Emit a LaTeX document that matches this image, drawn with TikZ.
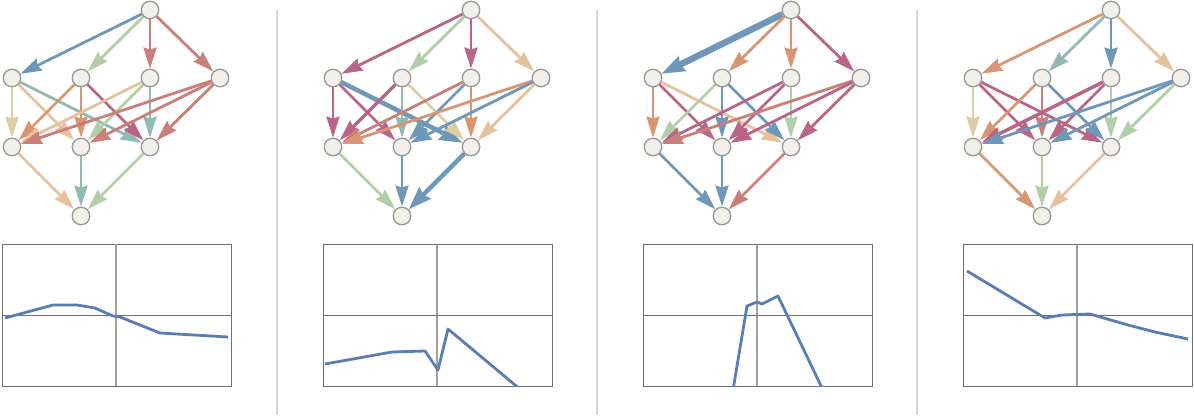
\documentclass[tikz,border=0pt]{standalone}
\usetikzlibrary{arrows.meta}
\definecolor{eblue}{HTML}{6F97B7}
\definecolor{emag}{HTML}{BA6587}
\definecolor{ered}{HTML}{CB7F7A}
\definecolor{eorange}{HTML}{D99673}
\definecolor{epeach}{HTML}{E7C19B}
\definecolor{egreen}{HTML}{B2CEA8}
\definecolor{eteal}{HTML}{92BAB2}
\definecolor{ekhaki}{HTML}{D9CEA5}
\definecolor{vfill}{HTML}{F2F0EB}
\definecolor{vgray}{HTML}{989898}
\definecolor{fgray}{HTML}{6E6E6E}
\definecolor{mgray}{HTML}{A0A0A0}
\definecolor{sgray}{HTML}{D6D6D6}
\definecolor{cblue}{HTML}{5A7DB4}
\tikzset{
  vtx/.style={circle,draw=vgray,fill=vfill,line width=1.3pt,minimum size=17.5pt,inner sep=0pt},
  wire/.style={draw=#1,line width=2.8pt,-{Stealth[length=21pt,width=13pt,inset=2pt]}},
  heavy/.style={line width=#1,-{Stealth[length=23pt,width=16pt,inset=2.5pt]}},
  frm/.style={draw=fgray,line width=1pt},
  curve/.style={draw=cblue,line width=2.8pt,line join=round},
  sep/.style={draw=sgray,line width=1.5pt}
}
\begin{document}
\begin{tikzpicture}[x=1pt,y=-1pt]
  \useasboundingbox (0,0) rectangle (1194,418);
  % separators
  \draw[sep] (277,10) -- (277,415);
  \draw[sep] (597,10) -- (597,415);
  \draw[sep] (917,10) -- (917,415);
  % panel 1
  \begin{scope}
    \node[vtx] (t) at (150,10) {};
    \node[vtx] (a1) at (12,78) {};
    \node[vtx] (a2) at (81,78) {};
    \node[vtx] (a3) at (150,78) {};
    \node[vtx] (a4) at (220,78) {};
    \node[vtx] (b1) at (12,147) {};
    \node[vtx] (b2) at (81,147) {};
    \node[vtx] (b3) at (150,147) {};
    \node[vtx] (z) at (81,216) {};
    \draw[wire=eblue] (t) -- (a1);
    \draw[wire=egreen] (t) -- (a2);
    \draw[wire=ered] (t) -- (a3);
    \draw[wire=ered] (t) -- (a4);
    \draw[wire=ekhaki] (a1) -- (b1);
    \draw[wire=epeach] (a1) -- (b2);
    \draw[wire=eteal] (a1) -- (b3);
    \draw[wire=eorange] (a2) -- (b1);
    \draw[wire=eorange] (a2) -- (b2);
    \draw[wire=emag] (a2) -- (b3);
    \draw[wire=epeach] (a3) -- (b1);
    \draw[wire=egreen] (a3) -- (b2);
    \draw[wire=eteal] (a3) -- (b3);
    \draw[wire=ered] (a4) -- (b1);
    \draw[wire=ered] (a4) -- (b2);
    \draw[wire=ered] (a4) -- (b3);
    \draw[wire=epeach] (b1) -- (z);
    \draw[wire=eteal] (b2) -- (z);
    \draw[wire=egreen] (b3) -- (z);
    \draw[frm] (2,244) rectangle (231,386);
    \draw[draw=mgray,line width=1.5pt] (116,244) -- (116,386);
    \draw[frm] (2,315) -- (231,315);
    \clip (2,244) rectangle (231,386);
    \draw[curve] (5,318) -- (53,305) -- (77,305) -- (95,308) -- (113,316) -- (120,317) -- (160,333) -- (228,337);
  \end{scope}
  % panel 2
  \begin{scope}[xshift=321]
    \node[vtx] (t) at (150,10) {};
    \node[vtx] (a1) at (12,78) {};
    \node[vtx] (a2) at (81,78) {};
    \node[vtx] (a3) at (150,78) {};
    \node[vtx] (a4) at (220,78) {};
    \node[vtx] (b1) at (12,147) {};
    \node[vtx] (b2) at (81,147) {};
    \node[vtx] (b3) at (150,147) {};
    \node[vtx] (z) at (81,216) {};
    \draw[wire=emag] (t) -- (a1);
    \draw[wire=egreen] (t) -- (a2);
    \draw[wire=emag] (t) -- (a3);
    \draw[wire=epeach] (t) -- (a4);
    \draw[wire=emag] (a1) -- (b1);
    \draw[wire=emag] (a1) -- (b2);
    \draw[wire=eblue,heavy=4.5pt] (a1) -- (b3);
    \draw[wire=emag,line width=3.5pt] (a2) -- (b1);
    \draw[wire=eteal] (a2) -- (b2);
    \draw[wire=ekhaki] (a2) -- (b3);
    \draw[wire=ered] (a3) -- (b1);
    \draw[wire=eblue] (a3) -- (b2);
    \draw[wire=eorange] (a3) -- (b3);
    \draw[wire=eorange] (a4) -- (b1);
    \draw[wire=eblue] (a4) -- (b2);
    \draw[wire=epeach] (a4) -- (b3);
    \draw[wire=egreen] (b1) -- (z);
    \draw[wire=eblue] (b2) -- (z);
    \draw[wire=eblue,heavy=4.5pt] (b3) -- (z);
    \draw[frm] (2,244) rectangle (231,386);
    \draw[draw=mgray,line width=1.5pt] (116,244) -- (116,386);
    \draw[frm] (2,315) -- (231,315);
    \clip (2,244) rectangle (231,386);
    \draw[curve] (4,364) -- (71,352) -- (104,351) -- (117,370) -- (127,329) -- (200,390);
  \end{scope}
  % panel 3
  \begin{scope}[xshift=641]
    \node[vtx] (t) at (150,10) {};
    \node[vtx] (a1) at (12,78) {};
    \node[vtx] (a2) at (81,78) {};
    \node[vtx] (a3) at (150,78) {};
    \node[vtx] (a4) at (220,78) {};
    \node[vtx] (b1) at (12,147) {};
    \node[vtx] (b2) at (81,147) {};
    \node[vtx] (b3) at (150,147) {};
    \node[vtx] (z) at (81,216) {};
    \draw[wire=eblue,heavy=6.5pt] (t) -- (a1);
    \draw[wire=eorange] (t) -- (a2);
    \draw[wire=eorange] (t) -- (a3);
    \draw[wire=emag] (t) -- (a4);
    \draw[wire=eorange] (a1) -- (b1);
    \draw[wire=emag] (a1) -- (b2);
    \draw[wire=epeach] (a1) -- (b3);
    \draw[wire=egreen] (a2) -- (b1);
    \draw[wire=eblue] (a2) -- (b2);
    \draw[wire=eblue] (a2) -- (b3);
    \draw[wire=emag] (a3) -- (b1);
    \draw[wire=emag] (a3) -- (b2);
    \draw[wire=egreen] (a3) -- (b3);
    \draw[wire=ered] (a4) -- (b1);
    \draw[wire=emag] (a4) -- (b2);
    \draw[wire=emag] (a4) -- (b3);
    \draw[wire=eblue] (b1) -- (z);
    \draw[wire=eblue] (b2) -- (z);
    \draw[wire=ered] (b3) -- (z);
    \draw[frm] (2,244) rectangle (231,386);
    \draw[draw=mgray,line width=1.5pt] (116,244) -- (116,386);
    \draw[frm] (2,315) -- (231,315);
    \clip (2,244) rectangle (231,386);
    \draw[curve] (92,390) -- (106,306) -- (116,302) -- (121,304) -- (137,296) -- (182,390);
  \end{scope}
  % panel 4
  \begin{scope}[xshift=961]
    \node[vtx] (t) at (150,10) {};
    \node[vtx] (a1) at (12,78) {};
    \node[vtx] (a2) at (81,78) {};
    \node[vtx] (a3) at (150,78) {};
    \node[vtx] (a4) at (220,78) {};
    \node[vtx] (b1) at (12,147) {};
    \node[vtx] (b2) at (81,147) {};
    \node[vtx] (b3) at (150,147) {};
    \node[vtx] (z) at (81,216) {};
    \draw[wire=eorange] (t) -- (a1);
    \draw[wire=eteal] (t) -- (a2);
    \draw[wire=eblue] (t) -- (a3);
    \draw[wire=epeach] (t) -- (a4);
    \draw[wire=ekhaki] (a1) -- (b1);
    \draw[wire=emag] (a1) -- (b2);
    \draw[wire=emag] (a1) -- (b3);
    \draw[wire=eorange] (a2) -- (b1);
    \draw[wire=ered] (a2) -- (b2);
    \draw[wire=eblue] (a2) -- (b3);
    \draw[wire=emag,line width=3.5pt] (a3) -- (b1);
    \draw[wire=emag] (a3) -- (b2);
    \draw[wire=egreen] (a3) -- (b3);
    \draw[wire=eblue] (a4) -- (b1);
    \draw[wire=eblue] (a4) -- (b2);
    \draw[wire=egreen] (a4) -- (b3);
    \draw[wire=eorange] (b1) -- (z);
    \draw[wire=egreen] (b2) -- (z);
    \draw[wire=epeach] (b3) -- (z);
    \draw[frm] (2,244) rectangle (231,386);
    \draw[draw=mgray,line width=1.5pt] (116,244) -- (116,386);
    \draw[frm] (2,315) -- (231,315);
    \clip (2,244) rectangle (231,386);
    \draw[curve] (6,271) -- (84,318) -- (101,315) -- (129,314) -- (167,325) -- (194,332) -- (227,339);
  \end{scope}
\end{tikzpicture}
\end{document}
